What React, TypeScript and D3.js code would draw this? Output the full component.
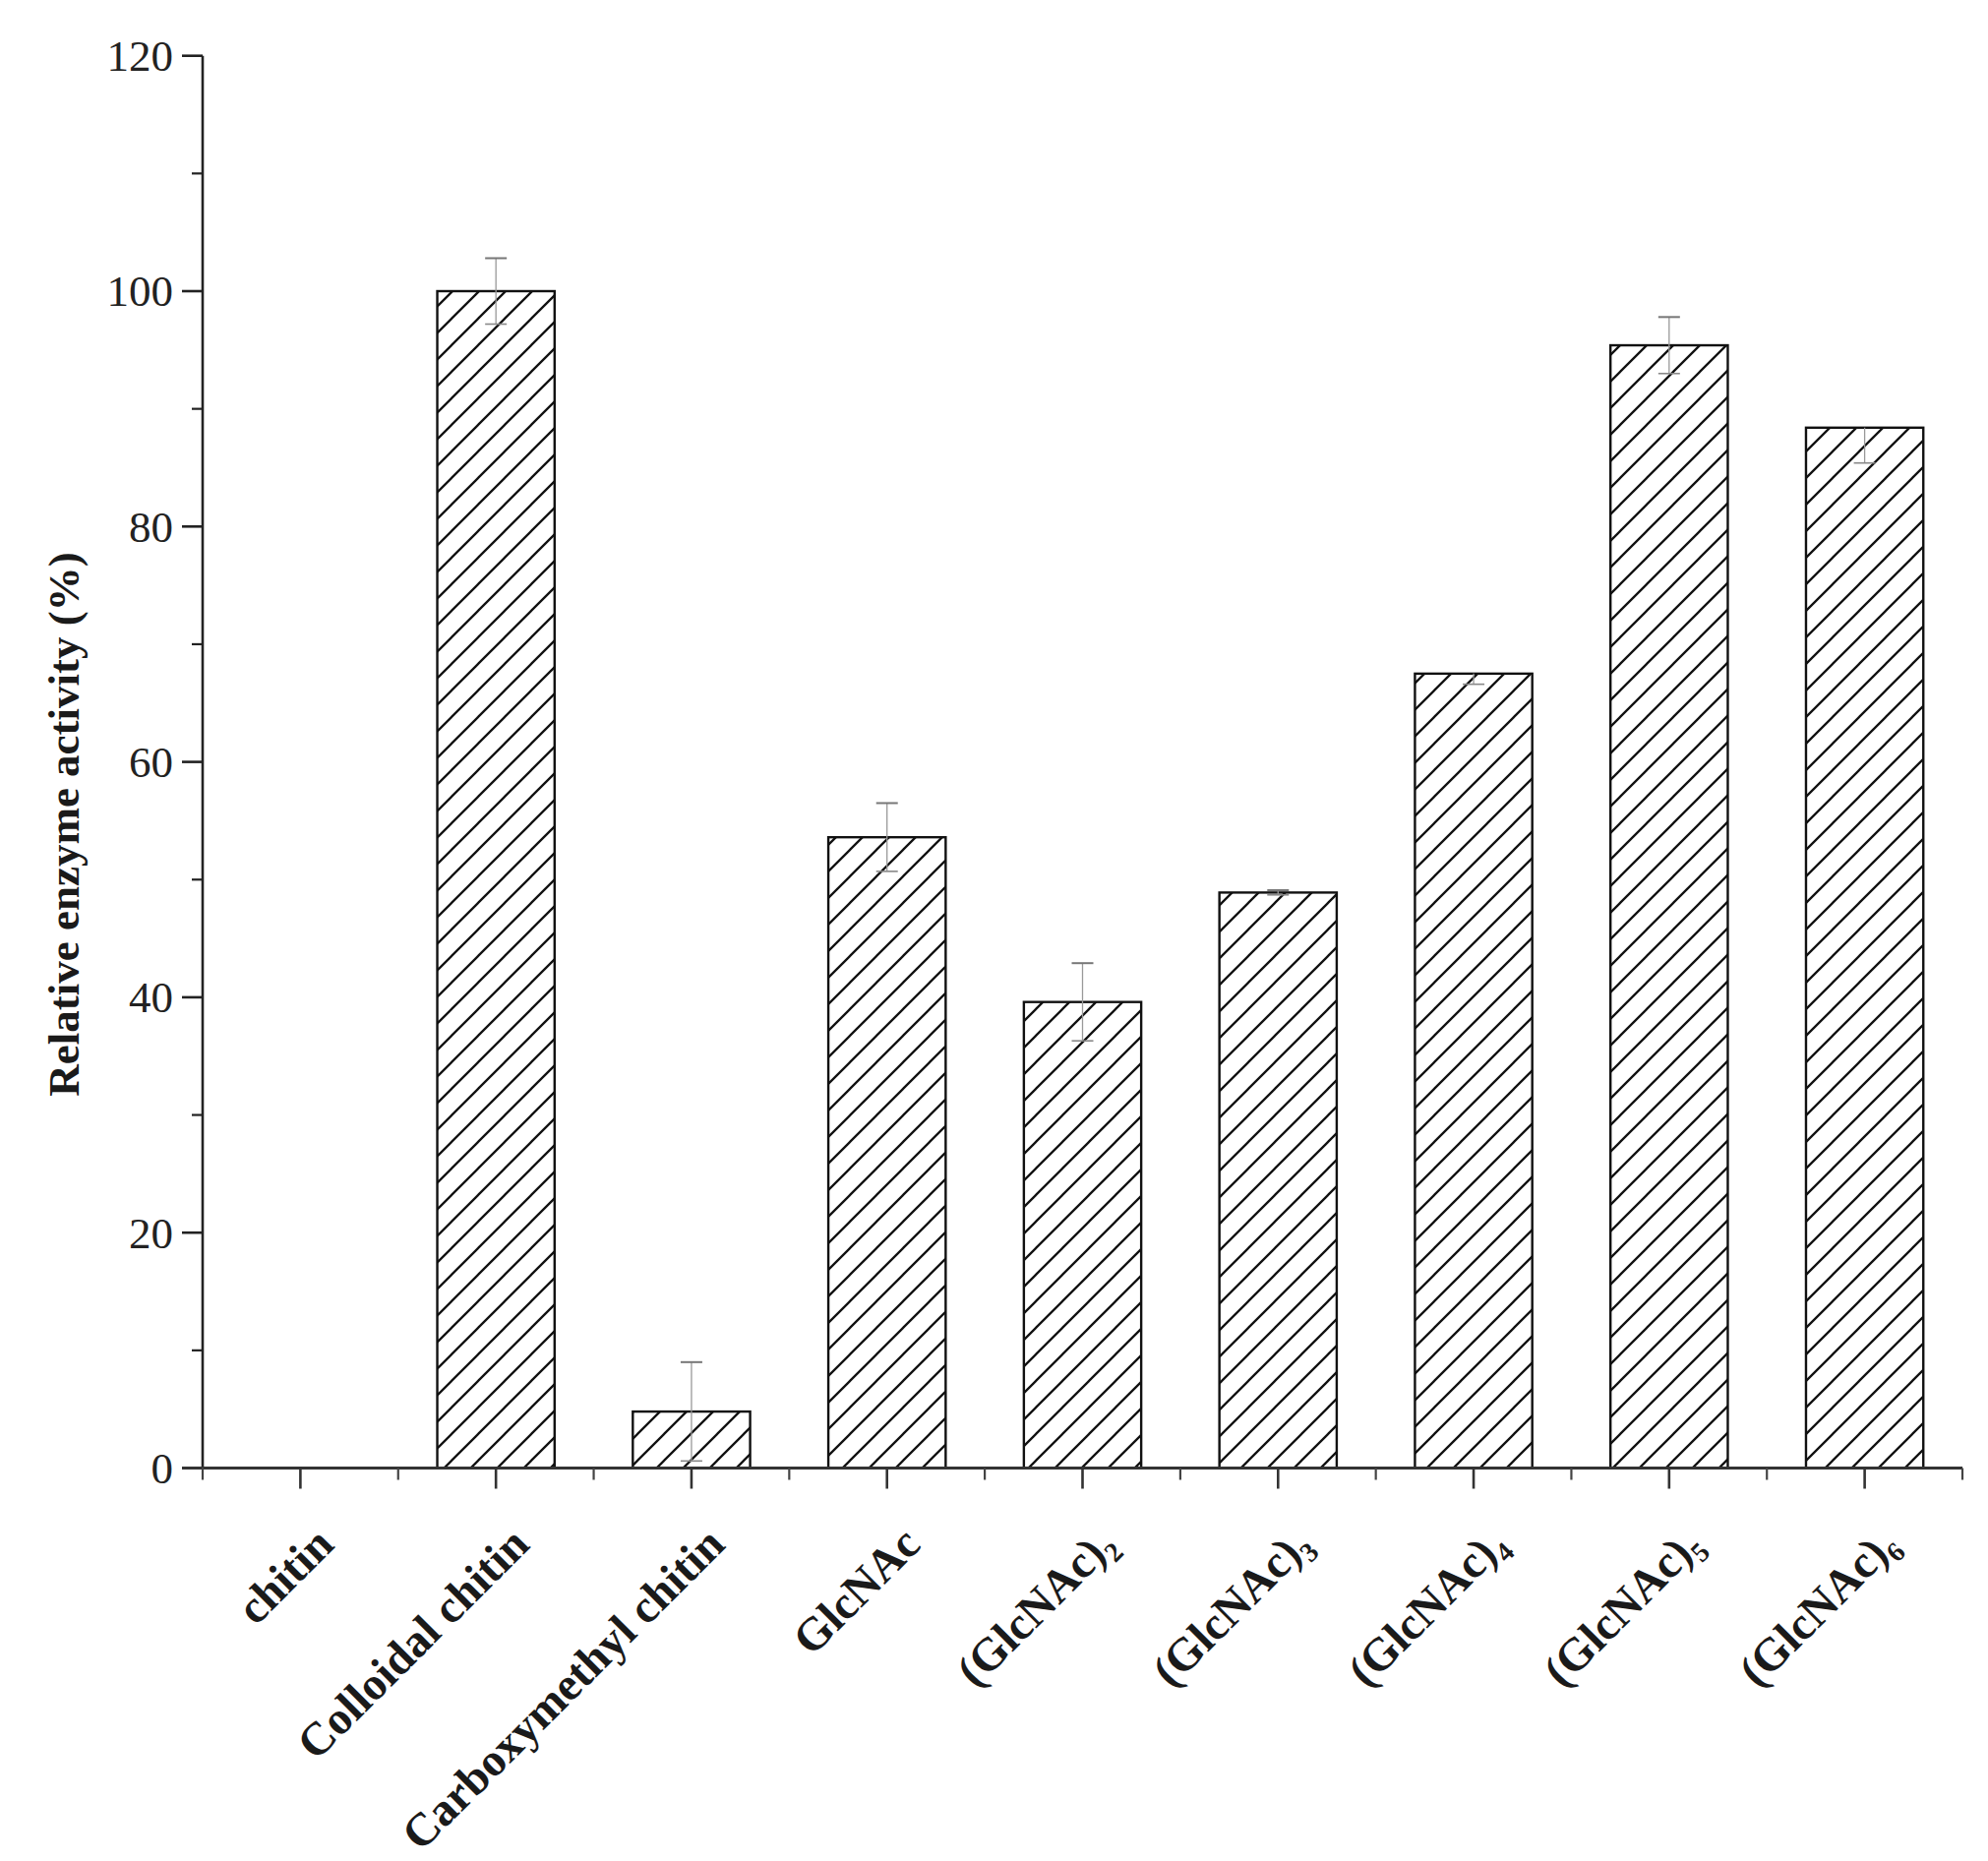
import React from "react";
import * as d3 from "d3";

const categories = [
  { main: "chitin", sub: "" },
  { main: "Colloidal chitin", sub: "" },
  { main: "Carboxymethyl chitin", sub: "" },
  { main: "GlcNAc", sub: "" },
  { main: "(GlcNAc)", sub: "2" },
  { main: "(GlcNAc)", sub: "3" },
  { main: "(GlcNAc)", sub: "4" },
  { main: "(GlcNAc)", sub: "5" },
  { main: "(GlcNAc)", sub: "6" },
];
const values = [0, 100, 4.8, 53.6, 39.6, 48.9, 67.5, 95.4, 88.4];
const errUp = [0, 2.8, 4.2, 2.9, 3.3, 0.2, 0, 2.4, 0];
const errDown = [0, 2.8, 4.2, 2.9, 3.3, 0.2, 0.9, 2.4, 3.0];
const yTicks = [0, 20, 40, 60, 80, 100, 120];
const yMinorTicks = [10, 30, 50, 70, 90, 110];
const yLabel = "Relative enzyme activity (%)";

const W = 2021;
const H = 1892;
const left = 206;
const right = 1995;
const top = 56.7;
const bottom = 1492.5;
const FONT = "'Liberation Serif', 'Times New Roman', serif";

export default function App() {
  const idx = categories.map((_, i) => String(i));
  const x = d3.scaleBand<string>().domain(idx).range([left, right]).paddingInner(0).paddingOuter(0);
  const y = d3.scaleLinear().domain([0, 120]).range([bottom, top]);
  const bw = x.bandwidth();
  const barW = bw * 0.6;
  const boundaries = d3.range(categories.length + 1).map((i) => left + i * bw);

  return (
    <svg width={W} height={H} style={{ position: "absolute", left: 0, top: 0, background: "#fff" }}>
      <defs>
        <pattern id="hatch" patternUnits="userSpaceOnUse" width={27} height={27}>
          <path d="M0,27 L27,0 M-4,4 L4,-4 M23,31 L31,23" stroke="#111" strokeWidth={2.3} />
        </pattern>
      </defs>
      <rect x={0} y={0} width={W} height={H} fill="#fff" />

      {/* bars */}
      {values.map((v, i) => {
        if (v <= 0) return null;
        const cx = (x(String(i)) as number) + bw / 2;
        return (
          <rect
            key={"b" + i}
            x={cx - barW / 2}
            y={y(v)}
            width={barW}
            height={y(0) - y(v)}
            fill="url(#hatch)"
            stroke="#111"
            strokeWidth={2.4}
          />
        );
      })}

      {/* error bars */}
      {values.map((v, i) => {
        if (v <= 0) return null;
        const cx = (x(String(i)) as number) + bw / 2;
        const hi = v + errUp[i];
        const lo = v - errDown[i];
        return (
          <g key={"e" + i}>
            <line x1={cx} x2={cx} y1={y(hi)} y2={y(lo)} stroke="#999" strokeWidth={1.3} />
            {errUp[i] > 0 && <line x1={cx - 11} x2={cx + 11} y1={y(hi)} y2={y(hi)} stroke="#777" strokeWidth={2} />}
            {errDown[i] > 0 && <line x1={cx - 11} x2={cx + 11} y1={y(lo)} y2={y(lo)} stroke="#888" strokeWidth={1.6} />}
          </g>
        );
      })}

      {/* y axis */}
      <line x1={left} x2={left} y1={top} y2={bottom} stroke="#222" strokeWidth={2.6} />
      {yTicks.map((t) => (
        <g key={"yt" + t}>
          <line x1={left - 21} x2={left} y1={y(t)} y2={y(t)} stroke="#222" strokeWidth={2.6} />
          <text x={left - 30} y={y(t)} dy="0.34em" textAnchor="end" fontFamily={FONT} fontSize={45} fill="#222">
            {t}
          </text>
        </g>
      ))}
      {yMinorTicks.map((t) => (
        <line key={"ym" + t} x1={left - 11} x2={left} y1={y(t)} y2={y(t)} stroke="#222" strokeWidth={2.2} />
      ))}

      {/* x axis */}
      <line x1={left - 21} x2={right} y1={bottom} y2={bottom} stroke="#333" strokeWidth={3.2} />
      {categories.map((_, i) => {
        const cx = (x(String(i)) as number) + bw / 2;
        return <line key={"xt" + i} x1={cx} x2={cx} y1={bottom} y2={bottom + 21} stroke="#333" strokeWidth={2.6} />;
      })}
      {boundaries.map((b, i) => (
        <line key={"xm" + i} x1={b} x2={b} y1={bottom} y2={bottom + 12} stroke="#444" strokeWidth={2.2} />
      ))}

      {/* x labels */}
      {categories.map((c, i) => {
        const cx = (x(String(i)) as number) + bw / 2;
        const ax = cx + 36;
        const ay = bottom + 80;
        return (
          <text
            key={"xl" + i}
            transform={`translate(${ax},${ay}) rotate(-45)`}
            textAnchor="end"
            fontFamily={FONT}
            fontWeight="bold"
            fontSize={47}
            fill="#1a1a1a"
          >
            {c.main}
            {c.sub && (
              <tspan fontSize={28} dy={10}>
                {c.sub}
              </tspan>
            )}
          </text>
        );
      })}

      {/* y label */}
      <text
        transform={`translate(80,838) rotate(-90)`}
        textAnchor="middle"
        fontFamily={FONT}
        fontWeight="bold"
        fontSize={45}
        fill="#1a1a1a"
      >
        {yLabel}
      </text>
    </svg>
  );
}
